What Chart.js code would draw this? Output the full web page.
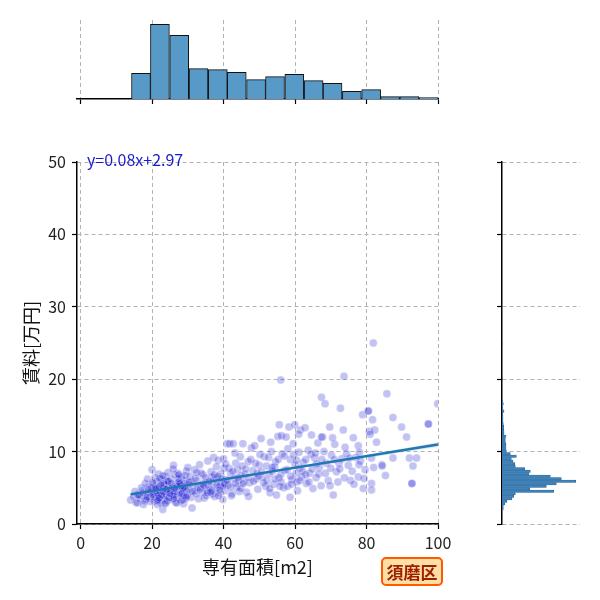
<!DOCTYPE html>
<html>
<head>
<meta charset="utf-8">
<script src="https://cdn.jsdelivr.net/npm/chart.js@4.4.1/dist/chart.umd.min.js"></script>
<style>
  html, body { margin: 0; padding: 0; background: #fff; }
  #wrap { position: relative; width: 600px; height: 600px; }
  canvas { position: absolute; left: 0; top: 0; }
  #badge {
    position: absolute; left: 381px; top: 557px; width: 62px; height: 29px;
    box-sizing: border-box; border: 2.5px solid #ff5a00; border-radius: 5px;
    background: #ffdfa5; color: #9e1f00;
    font: bold 17px 'Noto Sans CJK JP', sans-serif;
    display: flex; align-items: center; justify-content: center;
  }
</style>
</head>
<body>
<div id="wrap">
  <canvas id="mainChart" width="600" height="600"></canvas>
  <canvas id="topHist" width="600" height="600"></canvas>
  <canvas id="sideHist" width="600" height="600"></canvas>
  <div id="badge">須磨区</div>
</div>
<script>
"use strict";

// scatter: 専有面積 (m2) vs 賃料 (万円)
var areaX = [
  14.0, 14.8, 15.5, 16.2, 16.8, 17.3, 17.9, 18.4, 18.9, 19.3, 19.7, 15.9, 17.0, 18.1, 19.0, 16.5, 17.6, 18.7, 19.5, 20.0, 15.2, 18.3,
  20.2, 20.4, 20.6, 20.8, 21.0, 21.1, 21.3, 21.5, 21.6, 21.8, 22.0, 22.1, 22.3, 22.5, 22.6, 22.8, 23.0, 23.1, 23.3, 23.5,
  23.6, 23.8, 24.0, 24.1, 24.3, 24.5, 24.6, 24.8, 20.5, 21.2, 21.9, 22.4, 23.2, 23.9, 24.4, 20.9, 21.7, 22.7, 23.4, 24.2,
  24.9, 22.2, 23.7, 21.4, 20.1,
  25.1, 25.3, 25.6, 25.8, 26.0, 26.2, 26.4, 26.6, 26.8, 27.0, 27.2, 27.4, 27.6, 27.8, 28.0, 28.2, 28.4, 28.6, 28.8, 29.0,
  29.2, 29.4, 29.6, 29.8, 25.5, 26.1, 26.7, 27.3, 27.9, 28.5, 29.1, 29.7, 25.9, 26.9, 28.1, 29.3, 25.9, 27.5, 28.9, 26.3,
  30.2, 30.6, 31.0, 31.2, 31.5, 31.9, 32.3, 32.6, 33.0, 33.3, 33.6, 34.0, 34.3, 34.6, 35.0, 35.3, 35.6, 35.9, 30.9, 32.0, 33.8, 35.1,
  36.2, 36.5, 36.9, 37.2, 37.5, 37.9, 38.2, 38.5, 38.8, 39.2, 39.5, 39.8, 40.1, 40.4, 40.7, 37.0, 38.0, 39.0, 40.0, 36.7, 38.6, 39.9,
  41.0, 41.3, 41.7, 42.0, 42.4, 42.7, 43.0, 43.4, 43.7, 44.0, 44.4, 44.7, 45.0, 45.4, 45.7, 42.2, 43.2, 44.2, 45.2, 41.5,
  46.0, 46.4, 46.9, 47.3, 47.8, 48.2, 48.7, 49.1, 49.6, 50.0, 50.5, 50.9, 51.4, 51.8, 47.0, 49.4,
  52.2, 52.6, 53.0, 53.4, 53.7, 54.1, 54.5, 54.8, 55.2, 55.6, 56.0, 56.4, 56.8, 53.2, 54.3, 55.5, 56.2, 52.9, 56.0,
  57.1, 57.5, 57.9, 58.3, 58.7, 59.1, 59.5, 59.9, 60.3, 60.7, 61.1, 61.5, 61.9, 58.0, 59.0, 60.0, 61.0, 58.6, 60.5, 61.3,
  62.3, 62.8, 63.2, 63.7, 64.1, 64.6, 65.0, 65.5, 65.9, 66.4, 66.8, 67.3, 67.7, 63.0, 64.5, 66.0, 67.4, 67.4,
  68.1, 68.4, 68.8, 69.3, 69.7, 70.2, 70.7, 71.1, 71.6, 72.0, 72.7, 73.1, 73.5, 73.7, 70.0, 72.3,
  74.4, 74.9, 75.5, 76.0, 76.3, 77.0, 77.7, 77.7, 78.3, 78.9, 79.1, 79.6,
  80.5, 80.5, 80.8, 81.4, 82.0, 81.4, 81.4, 81.9, 81.7, 82.3, 81.0, 84.3, 84.4, 85.3, 85.7, 82.8,
  87.4, 87.4, 89.8, 92.0, 91.2, 93.0, 92.7, 94.0, 97.3, 97.3, 99.9, 92.7,
  28.3, 29.0, 29.9, 30.4, 31.3, 32.1, 32.8, 33.5, 34.2, 34.9, 35.5, 36.0, 36.8, 37.4, 38.1, 38.9, 39.6, 40.3, 41.1, 41.9,
  42.6, 43.3, 44.1, 44.8, 30.0, 32.5, 34.5, 36.4, 38.4, 40.6,
  45.5, 46.2, 47.0, 47.6, 48.4, 49.0, 49.8, 50.6, 51.2, 52.0, 52.8, 53.6, 54.4, 55.3, 56.1, 57.0, 57.8, 58.8, 59.6, 60.4,
  61.3, 62.1, 63.0, 63.9, 64.8, 65.7, 66.6, 67.5, 50.2, 55.8,
  16.0, 17.5, 18.6, 19.8, 20.3, 21.0, 21.8, 22.5, 23.2, 24.0, 24.7, 25.4, 26.2, 27.0, 27.8, 28.6, 21.5, 23.0, 24.5, 26.0,
  19.0, 22.0, 25.0, 27.5, 29.5,
  68.5, 69.8, 71.0, 72.5, 73.8, 75.2, 76.5, 77.9, 79.3, 70.5, 74.0, 78.0
];
var rentY = [
  3.3, 3.8, 3.0, 4.1, 3.5, 4.6, 3.2, 4.0, 5.1, 3.6, 4.4, 2.9, 5.0, 5.6, 4.3, 3.9, 2.7, 6.2, 3.1, 7.5, 4.5, 3.4,
  4.2, 5.5, 3.1, 6.4, 4.8, 3.6, 5.9, 2.7, 4.5, 6.9, 3.9, 5.2, 4.4, 3.3, 6.1, 4.9, 2.0, 5.6, 4.1, 3.5,
  6.6, 4.7, 3.0, 5.3, 3.8, 7.1, 4.3, 5.8, 3.7, 4.6, 5.0, 2.9, 3.9, 6.0, 4.9, 5.1, 3.4, 4.0, 5.5, 3.2,
  4.4, 6.3, 2.8, 4.3, 5.7,
  4.6, 6.2, 3.4, 5.1, 8.1, 4.0, 6.8, 3.0, 5.5, 4.3, 7.0, 3.6, 5.9, 4.8, 3.2, 6.5, 4.4, 5.2, 2.8, 6.0,
  4.7, 3.5, 7.3, 5.4, 5.0, 3.8, 4.9, 6.3, 4.1, 3.3, 5.6, 4.5, 7.6, 2.9, 5.3, 6.7, 4.0, 5.8, 3.9, 4.4,
  4.8, 6.6, 3.7, 2.2, 5.4, 7.5, 4.2, 6.0, 3.5, 8.2, 5.1, 4.4, 6.8, 3.6, 5.7, 4.6, 8.7, 5.2, 5.9, 4.5, 7.0, 3.9,
  4.9, 7.2, 5.8, 9.2, 3.8, 6.3, 5.0, 8.8, 4.3, 6.9, 5.6, 3.4, 7.7, 4.6, 6.1, 4.1, 7.9, 5.3, 9.0, 6.5, 3.9, 5.2,
  11.1, 5.4, 11.1, 7.0, 4.2, 11.1, 6.3, 8.4, 5.1, 7.5, 4.5, 9.3, 6.7, 11.1, 5.8, 3.9, 9.8, 6.0, 8.0, 7.7,
  6.9, 4.4, 8.6, 5.7, 10.5, 7.4, 10.8, 6.2, 4.8, 8.1, 11.8, 6.5, 9.3, 5.2, 3.8, 7.0,
  6.0, 9.2, 4.3, 10.0, 7.3, 5.5, 8.6, 4.0, 12.1, 13.7, 6.8, 9.7, 5.0, 11.3, 7.9, 6.4, 12.2, 4.9, 19.9,
  7.4, 12.0, 5.2, 13.4, 8.9, 6.1, 11.1, 13.7, 7.0, 4.6, 9.9, 13.0, 6.5, 10.4, 5.5, 8.2, 12.4, 3.7, 5.8, 7.7,
  8.5, 13.3, 5.6, 10.2, 7.0, 12.3, 4.9, 9.1, 6.4, 11.2, 7.8, 5.3, 12.0, 6.8, 9.6, 8.3, 17.5, 12.0,
  10.0, 16.6, 8.4, 6.0, 13.4, 9.5, 4.0, 11.0, 7.2, 5.8, 16.0, 9.0, 13.0, 20.4, 7.7, 8.4,
  9.7, 8.1, 6.0, 7.3, 11.9, 9.2, 10.8, 6.5, 8.7, 15.1, 4.9, 7.5,
  15.6, 15.6, 12.8, 9.1, 7.8, 5.6, 4.7, 25.0, 14.4, 13.0, 12.4, 8.2, 8.0, 6.7, 18.0, 11.3,
  9.1, 14.7, 13.4, 9.1, 12.0, 8.0, 5.6, 9.1, 13.8, 13.8, 16.6, 5.6,
  4.2, 5.1, 3.9, 5.8, 4.5, 6.3, 5.0, 4.8, 5.5, 6.4, 4.3, 5.9, 4.6, 6.8, 5.4, 4.7, 6.2, 5.5, 6.0, 5.1,
  7.3, 5.6, 6.4, 4.9, 7.8, 7.1, 5.3, 4.4, 6.6, 8.3,
  5.6, 7.6, 6.4, 8.9, 5.9, 8.4, 6.6, 7.2, 5.7, 8.0, 6.9, 7.8, 6.2, 8.9, 5.8, 9.4, 7.5, 6.6, 9.6, 8.8,
  6.0, 7.3, 8.9, 5.8, 7.6, 9.8, 6.9, 8.9, 9.6, 5.2,
  4.0, 4.3, 3.7, 5.0, 4.0, 4.9, 4.0, 5.4, 4.4, 4.8, 3.6, 5.6, 4.9, 5.2, 5.6, 4.9, 3.2, 6.7, 5.9, 3.5,
  4.8, 3.6, 4.2, 6.8, 3.7,
  7.0, 5.3, 8.9, 7.6, 6.4, 9.1, 5.5, 8.2, 6.3, 11.9, 10.6, 9.9
];

// regression line and its confidence band
var eqText = "y=0.08x+2.97";
var fitX = [14, 100];
var fitY = [4.09, 10.97];
var bandX = [14, 30, 50, 70, 100];
var bandUpper = [4.35, 5.45, 7.05, 8.65, 11.3];
var bandLower = [3.85, 5.05, 6.85, 8.35, 10.65];

// marginal histogram over 専有面積 (bin centres, bar heights)
var topBinCenters = [16.9, 22.2, 27.6, 33.0, 38.4, 43.7, 49.1, 54.4, 59.8, 65.2, 70.5, 75.9, 81.3, 86.6, 92.0, 97.4];
var topCounts = [77, 224, 191, 91, 88, 80, 58, 67, 74, 55, 47, 23, 28, 7, 7, 4];

// marginal histogram over 賃料 (bin centres, bar lengths)
var sideBinCenters = [2.11, 2.46, 2.80, 3.15, 3.49, 3.84, 4.18, 4.53, 4.87, 5.22, 5.56, 5.91, 6.25, 6.60, 6.94,
  7.29, 7.63, 7.98, 8.32, 8.67, 9.01, 9.36, 9.70, 10.05, 10.39, 10.74, 11.08, 11.43, 11.77, 12.12,
  12.46, 12.81, 13.15, 13.50, 13.84, 14.19, 14.53, 14.88, 15.22, 15.57, 15.91, 16.60, 16.95, 20.06, 24.89];
var sideCounts = [4, 4, 8, 15, 30, 35, 40, 155, 83, 133, 163, 221, 178, 145, 81,
  85, 68, 40, 38, 33, 28, 43, 25, 13, 12, 12, 12, 10, 10, 12,
  6, 6, 5, 5, 4, 3, 3, 3, 2, 6, 3, 4, 2, 2, 1];

var xTicks = [0, 20, 40, 60, 80, 100];
var yTicks = [0, 10, 20, 30, 40, 50];

Chart.defaults.font.family = "'Noto Sans CJK JP', 'Noto Sans', sans-serif";
Chart.defaults.color = "#222";

var gridColor = "#b3b3b3";

function fixTicks(values) {
    return function(scale) {
        scale.ticks = values.map(function(v) { return { value: v }; });
    };
}

function pairs(xs, ys) {
    return xs.map(function(x, i) { return { x: x, y: ys[i] }; });
}

var equationLabel = {
    id: "equationLabel",
    afterDatasetsDraw: function(chart) {
        var ctx = chart.ctx;
        var area = chart.chartArea;
        ctx.save();
        ctx.font = "16px 'Noto Sans CJK JP', sans-serif";
        ctx.fillStyle = "#1a1acc";
        ctx.textBaseline = "middle";
        ctx.textAlign = "left";
        ctx.fillText(eqText, area.left + 10, area.top - 2);
        ctx.restore();
    }
};

new Chart(document.getElementById("mainChart"), {
    type: "scatter",
    data: {
        datasets: [
            {
                type: "line",
                data: pairs(fitX, fitY),
                borderColor: "#2077b4",
                borderWidth: 2.5,
                pointRadius: 0,
                fill: false
            },
            {
                type: "line",
                data: pairs(bandX, bandUpper),
                borderWidth: 0,
                pointRadius: 0,
                fill: false
            },
            {
                type: "line",
                data: pairs(bandX, bandLower),
                borderWidth: 0,
                pointRadius: 0,
                fill: "-1",
                backgroundColor: "rgba(32,119,180,0.18)"
            },
            {
                data: pairs(areaX, rentY),
                pointRadius: 4,
                borderWidth: 1,
                backgroundColor: "rgba(0,0,205,0.24)",
                borderColor: "rgba(255,255,255,0.3)"
            }
        ]
    },
    options: {
        responsive: false,
        animation: false,
        events: [],
        layout: { padding: { left: 0, top: 162, right: 162, bottom: 0 } },
        plugins: { legend: { display: false }, tooltip: { enabled: false } },
        scales: {
            x: {
                type: "linear",
                min: -1,
                max: 100,
                afterBuildTicks: fixTicks(xTicks),
                afterFit: function(s) { s.height = 76; },
                grid: { color: gridColor, lineWidth: 1, tickLength: 5, tickColor: "#000", tickWidth: 1.2, tickBorderDash: [] },
                border: { color: "#000", width: 1.5, dash: [4, 3] },
                ticks: { font: { size: 16 }, padding: 4, color: "#222", maxRotation: 0 },
                title: { display: true, text: "専有面積[m2]", font: { size: 18 }, color: "#111", padding: { top: 0, bottom: 22 } }
            },
            y: {
                type: "linear",
                min: 0,
                max: 50,
                afterBuildTicks: fixTicks(yTicks),
                afterFit: function(s) { s.width = 77; },
                grid: { color: gridColor, lineWidth: 1, tickLength: 5, tickColor: "#000", tickWidth: 1.2, tickBorderDash: [] },
                border: { color: "#000", width: 1.5, dash: [4, 3] },
                ticks: { font: { size: 16 }, padding: 6, color: "#222" },
                title: { display: true, text: "賃料[万円]", font: { size: 18 }, color: "#111", padding: { top: 20, bottom: 0 } }
            }
        }
    },
    plugins: [equationLabel]
});

new Chart(document.getElementById("topHist"), {
    type: "bar",
    data: {
        datasets: [{
            data: pairs(topBinCenters, topCounts),
            backgroundColor: "#5799c7",
            borderColor: "#111",
            borderWidth: 1,
            barPercentage: 1,
            categoryPercentage: 1
        }]
    },
    options: {
        responsive: false,
        animation: false,
        events: [],
        layout: { padding: { left: 77, top: 20, right: 162, bottom: 491 } },
        plugins: { legend: { display: false }, tooltip: { enabled: false } },
        scales: {
            x: {
                type: "linear",
                min: -1,
                max: 100,
                offset: false,
                afterBuildTicks: fixTicks(xTicks),
                afterFit: function(s) { s.height = 10; },
                grid: { offset: false, color: gridColor, tickLength: 5, tickColor: "#000", tickWidth: 1.2, tickBorderDash: [] },
                border: { color: "#000", width: 1.5, dash: [4, 3] },
                ticks: { display: false }
            },
            y: { display: false, min: 0, max: 237 }
        }
    }
});

new Chart(document.getElementById("sideHist"), {
    type: "bar",
    data: {
        datasets: [{
            data: pairs(sideCounts, sideBinCenters),
            backgroundColor: "#3f84bd",
            borderColor: "#2c5f8a",
            borderWidth: 0.6,
            barPercentage: 1,
            categoryPercentage: 1
        }]
    },
    options: {
        indexAxis: "y",
        responsive: false,
        animation: false,
        events: [],
        layout: { padding: { left: 497, top: 162, right: 20, bottom: 76 } },
        plugins: { legend: { display: false }, tooltip: { enabled: false } },
        scales: {
            y: {
                type: "linear",
                position: "left",
                min: 0,
                max: 50,
                offset: false,
                afterBuildTicks: fixTicks(yTicks),
                afterFit: function(s) { s.width = 5; },
                grid: { offset: false, color: gridColor, tickLength: 5, tickColor: "#000", tickWidth: 1.2, tickBorderDash: [] },
                border: { color: "#000", width: 1.5, dash: [4, 3] },
                ticks: { display: false }
            },
            x: { display: false, min: 0, max: 234 }
        }
    }
});
</script>
</body>
</html>
